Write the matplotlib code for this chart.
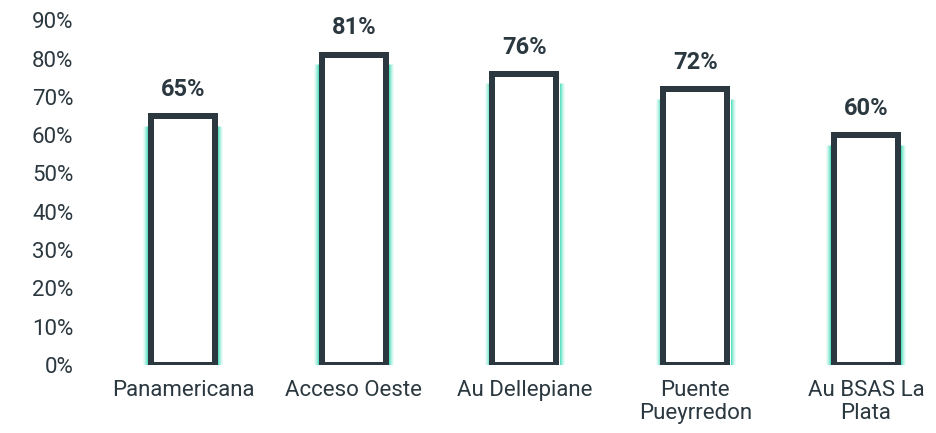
import matplotlib
matplotlib.use("Agg")
import matplotlib.pyplot as plt
import numpy as np

categories = ["Panamericana", "Acceso Oeste", "Au Dellepiane", "Puente\nPueyrredon", "Au BSAS La\nPlata"]
values = [65, 81, 76, 72, 60]
yticks = [0, 10, 20, 30, 40, 50, 60, 70, 80, 90]
ytick_labels = [f"{v}%" for v in yticks]

DARK = "#2b3840"
TEXT = "#2b3840"
GLOW = "#3fdcb8"

plt.rcParams['font.family'] = ['Roboto', 'DejaVu Sans']

W, H = 937, 433
fig = plt.figure(figsize=(W / 100, H / 100), dpi=100)
fig.patch.set_facecolor("white")
ax_w = 853.75
ax = fig.add_axes([97.6 / W, 68 / H, ax_w / W, 365 / H])
ax.set_facecolor("white")

x = np.arange(len(categories))
bw = 0.375
px = 5.0 / ax_w  # one pixel in data units (xlim spans 5)
edge_lw_px = 6
outer = bw / 2 + (edge_lw_px / 2) * px

# glow strips outside both side edges
vals = np.array(values)
for k, a in enumerate([0.85, 0.6, 0.4, 0.22, 0.1]):
    off = outer + (k + 0.5) * px
    for side in (-1, 1):
        ax.vlines(x + side * off, 0, vals - 2.5, colors=GLOW,
                  linewidth=1.0 * 0.72, alpha=a, zorder=1)

ax.bar(x, values, width=bw, facecolor="white", edgecolor=DARK,
       linewidth=edge_lw_px * 0.72, zorder=3)

for xi, v in zip(x, values):
    ax.annotate(f"{v}%", (xi, v), xytext=(0, 11), textcoords="offset points",
                ha="center", va="bottom", fontsize=17, fontweight="bold", color=DARK)

ax.set_xlim(-0.5, 4.5)
ax.set_ylim(0, 95.3)
ax.set_yticks(yticks)
ax.set_yticklabels(ytick_labels)
ax.set_xticks(x)
ax.set_xticklabels(categories, linespacing=1.1)
ax.tick_params(axis="both", length=0, labelsize=16, labelcolor=TEXT)
ax.tick_params(axis="y", pad=17.5)
ax.tick_params(axis="x", pad=11)
for s in ax.spines.values():
    s.set_visible(False)

fig.savefig("out.png", dpi=100, facecolor="white")
